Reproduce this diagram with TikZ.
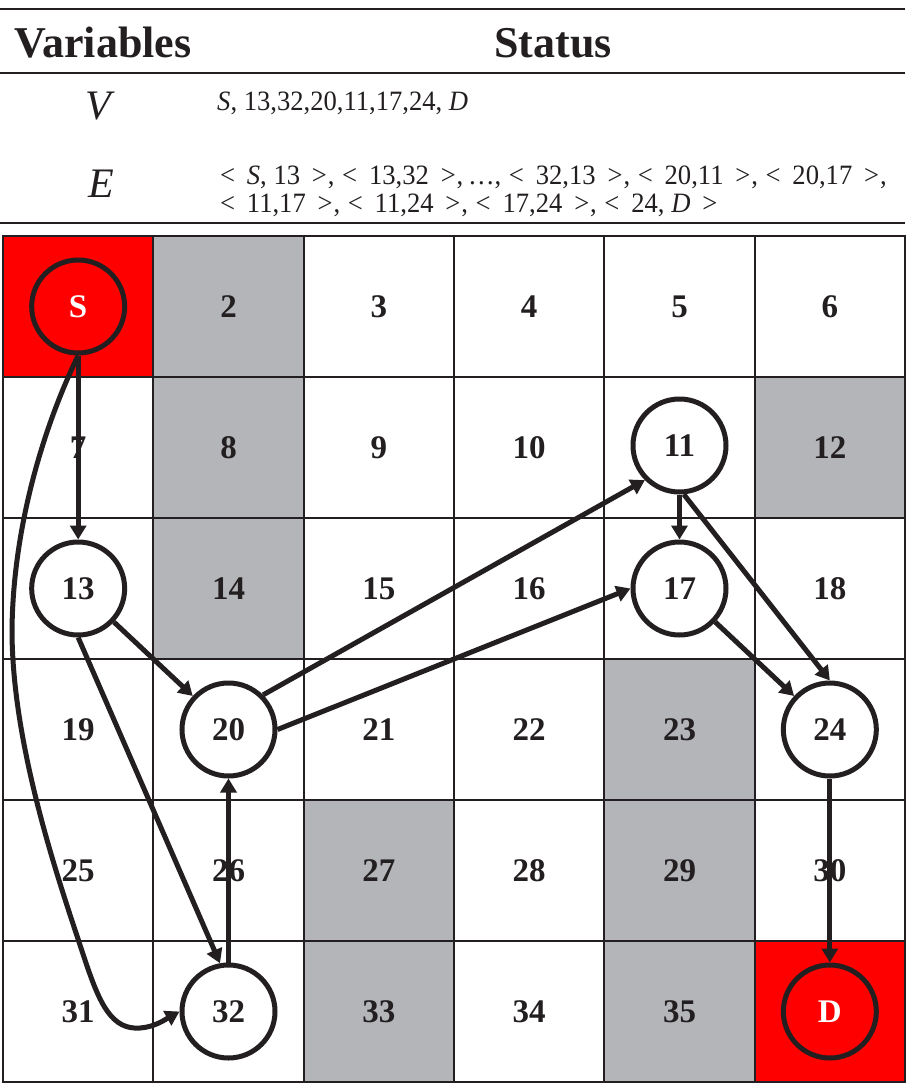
\documentclass[tikz,border=0pt]{standalone}
\usepackage{fontspec}
\setmainfont{Liberation Serif}
\usetikzlibrary{arrows.meta}
\definecolor{ink}{RGB}{35,31,32}
\definecolor{cellgray}{RGB}{179,181,184}
\definecolor{cellred}{RGB}{255,0,0}
\newcommand{\lt}{\hspace{3pt}<\hspace{12.5pt}}
\newcommand{\gt}{\hspace{12.5pt}>\hspace{1pt}}
\newcommand{\sep}{,\hspace{5pt}}
\begin{document}
\begin{tikzpicture}[x=1pt,y=-1pt,
  cellbox/.style={draw=ink, line width=2pt, minimum width=150.33pt, minimum height=141pt,
    inner sep=0pt, text=ink, font=\fontsize{33}{36}\selectfont\bfseries},
  vnode/.style={circle, draw=ink, line width=5pt, minimum size=93pt, inner sep=0pt, fill=white,
    text=ink, font=\fontsize{33}{36}\selectfont\bfseries},
  endnode/.style={vnode, fill=cellred, text=white},
  link/.style={draw=ink, line width=5pt, -{Triangle[length=14pt,width=16pt]}},
  hrule/.style={draw=ink, line width=2.5pt},
  headtext/.style={anchor=base, text=ink, font=\fontsize{44}{48}\selectfont\bfseries},
  vartext/.style={anchor=base, text=ink, font=\fontsize{42}{46}\selectfont\itshape},
  stattext/.style={anchor=base west, text=ink, inner sep=0pt, font=\fontsize{28}{30}\selectfont}
]
\useasboundingbox (0,0) rectangle (912,1087);
\fill[white] (0,0) rectangle (912,1087);

% table header
\draw[hrule] (0,9) -- (905,9);
\draw[hrule] (0,73) -- (905,73);
\draw[hrule] (0,223) -- (905,223);
\node[headtext] (hvar) at (103,57) {Variables};
\node[headtext] (hstat) at (553,57) {Status};
\node[vartext] (vV) at (98,119) {V};
\node[vartext] (vE) at (101,197) {E};
\node[stattext] (sV) at (217,110) {\scalebox{0.95}[1]{\textit{S}, 13,32,20,11,17,24, \textit{D}}};
\node[stattext] (sE1) at (217,184) {\scalebox{0.95}[1]{\lt\textit{S}, 13\gt\sep\lt 13,32\gt\sep…\sep\lt 32,13\gt\sep\lt 20,11\gt\sep\lt 20,17\gt,}};
\node[stattext] (sE2) at (217,212) {\scalebox{0.95}[1]{\lt 11,17\gt\sep\lt 11,24\gt\sep\lt 17,24\gt\sep\lt 24, \textit{D}\gt}};

% grid cells
\foreach \n/\fc/\lab in {
  1/cellred/,2/cellgray/2,3/white/3,4/white/4,5/white/5,6/white/6,
  7/white/7,8/cellgray/8,9/white/9,10/white/10,11/white/,12/cellgray/12,
  13/white/,14/cellgray/14,15/white/15,16/white/16,17/white/,18/white/18,
  19/white/19,20/white/,21/white/21,22/white/22,23/cellgray/23,24/white/,
  25/white/25,26/white/26,27/cellgray/27,28/white/28,29/cellgray/29,30/white/30,
  31/white/31,32/white/,33/cellgray/33,34/white/34,35/cellgray/35,36/cellred/} {
  \pgfmathtruncatemacro{\rr}{(\n-1)/6}
  \pgfmathtruncatemacro{\cc}{mod(\n-1,6)}
  \node[cellbox, fill=\fc] (c\n) at ({3+150.333*(\cc+0.5)},{236+141*(\rr+0.5)}) {\lab};
}

% graph vertices
\node[endnode] (nS) at (c1) {S};
\node[vnode] (n11) at ([yshift=2pt]c11) {11};
\node[vnode] (n13) at (c13) {13};
\node[vnode] (n17) at (c17) {17};
\node[vnode] (n20) at (c20) {20};
\node[vnode] (n24) at (c24) {24};
\node[vnode] (n32) at (c32) {32};
\node[endnode] (nD) at (c36) {D};

% edges
\draw[link] (nS) -- (n13);
\draw[link] (nS.south) .. controls (42,430) and (13,530) .. (12,630)
  .. controls (12,750) and (62,890) .. (85,960)
  .. controls (100,1005) and (112,1030) .. (140,1028)
  .. controls (155,1027) and (166,1019) .. (n32.west);
\draw[link] (n13) -- (n20);
\draw[link] (n13.south) -- (n32.100);
\draw[link] (n32) -- (n20);
\draw[link] (n20.45) -- (n11.225);
\draw[link] (n20.east) -- (n17.west);
\draw[link] (n11) -- (n17);
\draw[link] (n11.275) -- (n24.north);
\draw[link] (n17) -- (n24);
\draw[link] (n24) -- (nD);
\end{tikzpicture}
\end{document}
